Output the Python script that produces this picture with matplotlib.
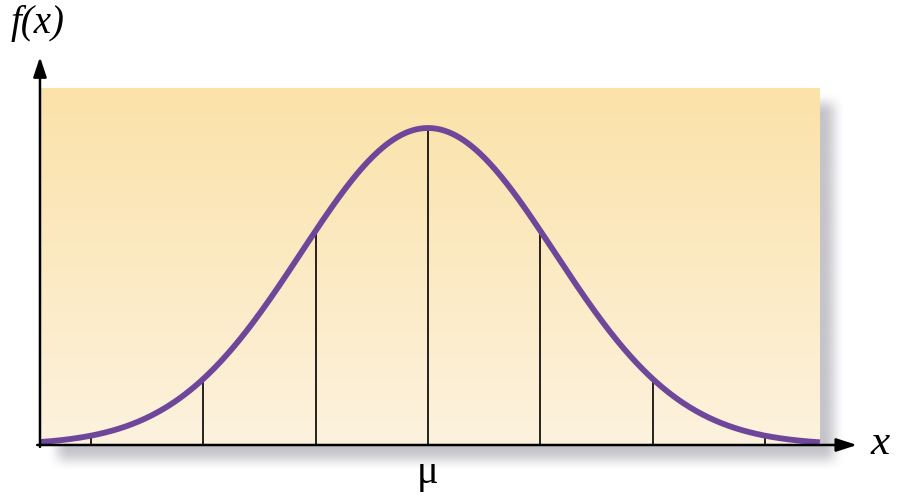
import numpy as np
import matplotlib.pyplot as plt

# normal curve, x measured in units of the marked spacing
mu = 0.0
curve_spread = 1.13
peak = 1.0
marks = [-3, -2, -1, 0, 1, 2, 3]
x_left, x_right = -3.46, 3.49
x_label = "x"
y_label = "f(x)"
mu_label = "μ"

W, H = 901, 498
XLIM = (-3.811, 4.212)
YLIM = (-0.1672, 1.4038)


def curve(x):
    return peak * np.exp(-(x - mu) ** 2 / (2 * curve_spread ** 2))


def ramp(p, lo, hi, blur):
    d = np.minimum(p - lo, hi - p) / blur + 0.5
    d = np.clip(d, 0, 1)
    return d * d * (3 - 2 * d)


fig = plt.figure(figsize=(W / 100, H / 100), dpi=100)
ax = fig.add_axes([0, 0, 1, 1])
ax.set_xlim(*XLIM)
ax.set_ylim(*YLIM)
ax.axis("off")

# * soft drop shadow behind the panel
px = np.arange(W) + 0.5
py = np.arange(H) + 0.5
alpha = np.outer(ramp(py, 104, 460, 22), ramp(px, 58, 834, 22))
shadow = np.zeros((H, W, 4))
shadow[..., :3] = np.array([115, 115, 128]) / 255
shadow[..., 3] = alpha * 0.42
ax.imshow(shadow, extent=(*XLIM, *YLIM), origin="upper", aspect="auto",
          zorder=0, interpolation="bilinear")

# * gradient panel
top = np.array([250, 226, 168]) / 255
bottom = np.array([253, 242, 222]) / 255
t = np.linspace(0, 1, 256)[:, None]
grad = (top * (1 - t) + bottom * t)[:, None, :]
ax.imshow(grad, extent=(x_left, x_right, 0, 1.126), origin="upper",
          aspect="auto", zorder=1, interpolation="bilinear")

# * vertical lines at the marks
for m in marks:
    ax.plot([m, m], [0, curve(m)], color="black", lw=1.2, zorder=2)

xs = np.linspace(x_left, x_right, 600)
ax.plot(xs, curve(xs), color="#6f479a", lw=4.2, zorder=3,
        solid_capstyle="butt")

# * axes with arrows
ax.annotate("", xy=(3.82, 0), xytext=(-3.48, 0),
            arrowprops=dict(arrowstyle="-|>,head_length=0.62,head_width=0.2",
                            color="black", lw=1.8, shrinkA=0, shrinkB=0,
                            mutation_scale=20), zorder=4)
ax.annotate("", xy=(-3.455, 1.224), xytext=(-3.455, -0.006),
            arrowprops=dict(arrowstyle="-|>,head_length=0.6,head_width=0.2",
                            color="black", lw=1.8, shrinkA=0, shrinkB=0,
                            mutation_scale=20), zorder=4)

serif = ["Liberation Serif", "DejaVu Serif"]
ax.text(-3.48, 1.33, y_label, family=serif, style="italic", fontsize=28,
        ha="center", va="center")
ax.text(4.03, 0.005, x_label, family=serif, style="italic", fontsize=31,
        ha="center", va="center")
ax.text(0, -0.09, mu_label, family=serif, fontsize=29,
        ha="center", va="center")

fig.savefig("out.png", dpi=100)
